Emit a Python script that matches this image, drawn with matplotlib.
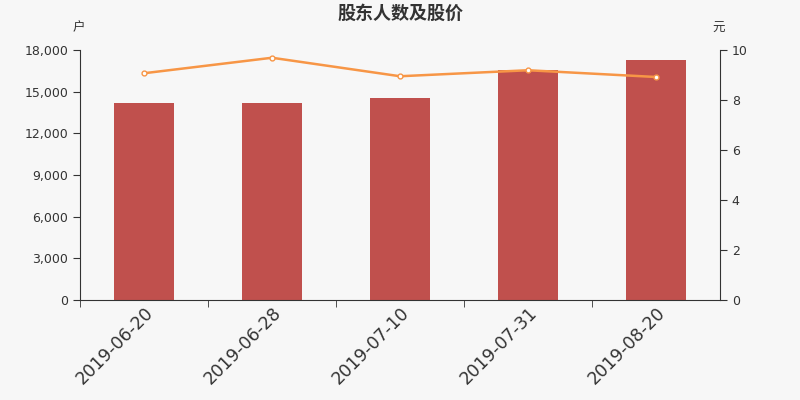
import matplotlib
matplotlib.use("Agg")
import matplotlib.pyplot as plt
from matplotlib.ticker import FuncFormatter, FixedLocator
import numpy as np

plt.rcParams['font.family'] = ['DejaVu Sans', 'Noto Sans CJK SC']

dates = ["2019-06-20", "2019-06-28", "2019-07-10", "2019-07-31", "2019-08-20"]
holders = [14184, 14184, 14544, 16560, 17300]
prices = [9.07, 9.69, 8.95, 9.19, 8.92]

bg = "#f7f7f7"
fig = plt.figure(figsize=(8, 4), dpi=100, facecolor=bg)
ax = fig.add_axes([0.1, 0.25, 0.8, 0.625])
ax.set_facecolor(bg)
x = np.arange(len(dates))
ax.bar(x, holders, width=0.47, color="#c0504d", zorder=2)
ax.set_xlim(-0.5, len(dates) - 0.5)
ax.set_ylim(0, 18000)
ax.set_yticks(np.arange(0, 18001, 3000))
ax.yaxis.set_major_formatter(FuncFormatter(lambda v, p: f"{int(v):,}"))
ax.set_xticks(x)
ax.set_xticklabels(dates, rotation=45, ha="right", rotation_mode="anchor", fontsize=12.5, color="#333333")
ax.tick_params(axis="x", length=0, pad=3)
ax.xaxis.set_minor_locator(FixedLocator(np.arange(-0.5, len(dates) - 1, 1)))
ax.tick_params(axis="x", which="minor", length=5, color="#333333")
ax.tick_params(axis="y", labelsize=9, colors="#333333", length=5)
for s in ["top", "right"]:
    ax.spines[s].set_visible(False)
for s in ["left", "bottom"]:
    ax.spines[s].set_color("#333333")

ax2 = ax.twinx()
ax2.plot(x, prices, color="#f79646", lw=1.8, marker="o", markersize=3.5,
         markerfacecolor="white", markeredgecolor="#f79646", zorder=3)
ax2.set_ylim(0, 10)
ax2.set_yticks(np.arange(0, 11, 2))
ax2.tick_params(axis="y", labelsize=9, colors="#333333", length=5)
for s in ["top", "left", "bottom"]:
    ax2.spines[s].set_visible(False)
ax2.spines["right"].set_color("#333333")

fig.text(0.5, 0.965, "股东人数及股价", ha="center", va="center", fontsize=13, fontweight="bold", color="#333333")
fig.text(0.098, 0.93, "户", ha="center", va="center", fontsize=9, color="#333333")
fig.text(0.898, 0.93, "元", ha="center", va="center", fontsize=9, color="#333333")

fig.savefig("out.png", dpi=100, facecolor=bg)
